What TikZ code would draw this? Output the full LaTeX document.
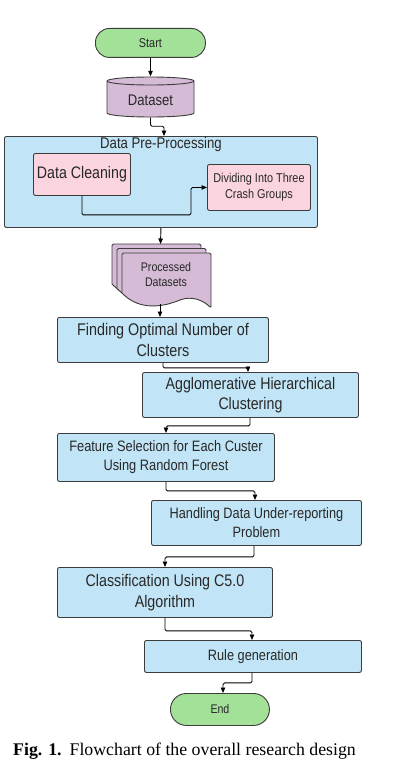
\documentclass[tikz,border=0pt]{standalone}
\usepackage{fontspec}
\setmainfont{Liberation Serif}
\newfontfamily\bfont[FakeStretch=0.85]{Liberation Sans}
\usetikzlibrary{arrows.meta}
\definecolor{cgreen}{RGB}{163,224,152}
\definecolor{clav}{RGB}{213,187,213}
\definecolor{cblue}{RGB}{193,229,246}
\definecolor{cpink}{RGB}{250,212,222}
\definecolor{cborder}{RGB}{60,60,60}
\definecolor{ctext}{RGB}{40,40,40}
\newcommand{\fs}[2]{\fontsize{#1}{#2}\selectfont}
\tikzset{
  box/.style={draw=cborder, line width=0.9pt, rounded corners=2pt, anchor=north west, inner sep=0pt, align=center, text=ctext},
  bluebox/.style={box, fill=cblue},
  pinkbox/.style={box, fill=cpink},
  termbox/.style={box, fill=cgreen, rounded corners=14pt},
  conn/.style={draw=black, line width=0.9pt, rounded corners=1.5pt, -{Triangle[length=5.5pt,width=4.5pt]}},
  shp/.style={draw=cborder, line width=0.9pt, fill=clav},
  txt/.style={inner sep=0pt, align=center, text=ctext},
}
\begin{document}
\begin{tikzpicture}[x=1pt,y=-1pt]
\useasboundingbox (0,0) rectangle (403,776);
\fill[white] (0,0) rectangle (403,776);

% Start
\node[termbox, minimum width=110pt, minimum height=29pt, font=\bfont\fs{12.8}{15}] (start) at (95,28) {Start};

% Dataset cylinder
\draw[shp] (107,81) -- (107,113) arc[start angle=180, end angle=0, x radius=43.5, y radius=4]
  -- (194,81) arc[start angle=0, end angle=-180, x radius=43.5, y radius=4] -- cycle;
\draw[draw=cborder, line width=0.9pt] (107,81) arc[start angle=180, end angle=0, x radius=43.5, y radius=4];
\node[txt, minimum width=87pt, minimum height=41pt, font=\bfont\fs{15.4}{18}] (dataset) at (150.5,97) {};
\node[txt, font=\bfont\fs{15.4}{18}] (datasettxt) at (150.5,100) {Dataset};

% Pre-processing container
\node[bluebox, minimum width=313pt, minimum height=91pt] (prep) at (4,136) {};
\node[txt, font=\bfont\fs{15.5}{18}] (preptitle) at (161,144.5) {Data Pre-Processing};
\node[pinkbox, minimum width=97pt, minimum height=42pt, font=\bfont\fs{16.7}{20}] (clean) at (33,153) {Data Cleaning};
\node[pinkbox, minimum width=103pt, minimum height=46pt, font=\bfont\fs{12.8}{16}] (divide) at (207,164) {Dividing Into Three\\Crash Groups};

% Processed datasets (multi-document)
\foreach \dx/\dy in {-10/-9, -5/-4.5, 0/0} {
  \begin{scope}[shift={(\dx,\dy)}]
    \fill[clav] (122,293) -- (122,253) -- (211,253) -- (211,308)
      .. controls (203,300) and (192,296) .. (180,300)
      .. controls (165,306) and (140,312) .. (122,293) -- cycle;
    \draw[draw=cborder, line width=0.9pt, rounded corners=1.5pt] (122,293) -- (122,253) -- (211,253) -- (211,308)
      .. controls (203,300) and (192,296) .. (180,300)
      .. controls (165,306) and (140,312) .. (122,293);
  \end{scope}
}
\node[txt, font=\bfont\fs{12.5}{15}] (procdoc) at (166,274.5) {Processed\\Datasets};
\coordinate (doctop) at (160.5,244);
\coordinate (docbot) at (160,304);

% Process boxes
\node[bluebox, minimum width=211pt, minimum height=45pt, font=\bfont\fs{16.9}{21}] (find) at (57,317) {Finding Optimal Number of\\Clusters};
\node[bluebox, minimum width=216pt, minimum height=45pt, font=\bfont\fs{16.7}{20}] (agglo) at (142,372) {Agglomerative Hierarchical\\Clustering};
\node[bluebox, minimum width=217pt, minimum height=48pt, font=\bfont\fs{15.1}{19}] (feat) at (57,433) {Feature Selection for Each Custer\\Using Random Forest};
\node[bluebox, minimum width=210pt, minimum height=45pt, font=\bfont\fs{15}{19}] (hand) at (151,500) {Handling Data Under-reporting\\Problem};
\node[bluebox, minimum width=215pt, minimum height=50pt, font=\bfont\fs{16.8}{21}] (classif) at (57,567) {Classification Using C5.0\\Algorithm};
\node[bluebox, minimum width=217pt, minimum height=32pt, font=\bfont\fs{15}{18}] (rule) at (144,640) {Rule generation};
\node[termbox, rounded corners=16pt, minimum width=99pt, minimum height=32pt, font=\bfont\fs{12.5}{15}] (end) at (170,693) {End};

% Connectors
\draw[conn] (start.south) -- (dataset.north);
\draw[conn] (dataset.south) -- ++(0,8.5) -| ([xshift=160pt]prep.north west);
\draw[conn] ([xshift=49pt]clean.south west) -- ++(0,19) -- ++(109,0) |- (divide.west);
\draw[conn] (prep.south) -- (doctop);
\draw[conn] (docbot) -- ([xshift=103pt]find.north west);
\draw[conn] ([xshift=106pt]find.south west) -- ++(0,5) -| ([xshift=106pt]agglo.north west);
\draw[conn] ([xshift=108pt]agglo.south west) -- ++(0,8) -| ([xshift=109pt]feat.north west);
\draw[conn] ([xshift=109pt]feat.south west) -- ++(0,9) -| ([xshift=104pt]hand.north west);
\draw[conn] ([xshift=103pt]hand.south west) -- ++(0,11) -| ([xshift=108pt]classif.north west);
\draw[conn] ([xshift=108pt]classif.south west) -- ++(0,13) -| ([xshift=108pt]rule.north west);
\draw[conn] ([xshift=108pt]rule.south west) -- ++(0,10) -| ([xshift=53pt]end.north west);

% Caption
\node[anchor=base west, inner sep=0pt, font=\fs{17.8}{20}] (caption) at (13,755) {\textbf{Fig. 1.}\hspace{8pt}Flowchart of the overall research design};
\end{tikzpicture}
\end{document}
